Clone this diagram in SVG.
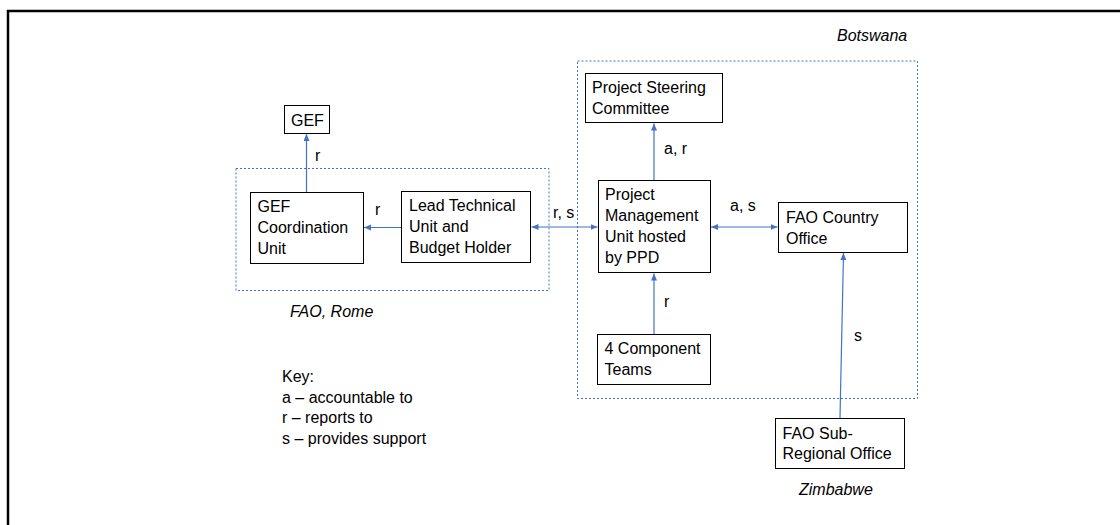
<svg xmlns="http://www.w3.org/2000/svg" width="1120" height="525" viewBox="0 0 1120 525">
<defs>
<marker id="ah" markerUnits="userSpaceOnUse" markerWidth="8" markerHeight="7" refX="7" refY="3" orient="auto-start-reverse">
<path d="M0,0 L7,3 L0,6 z" fill="#4472C4"/>
</marker>
</defs>
<style>
text{font-family:"Liberation Sans",Arial,sans-serif;font-size:16px;fill:#000}
.it{font-style:italic}
.box{fill:#fff;stroke:#000;stroke-width:1}
.grp{fill:none;stroke:#4472C4;stroke-width:1;stroke-dasharray:2 2}
.c{fill:none;stroke:#4472C4;stroke-width:1.2}
</style>
<rect width="1120" height="525" fill="#fff"/>
<path d="M8,525 V11 H1120" fill="none" stroke="#000" stroke-width="2.5"/>

<g id="group-rome">
<rect class="grp" x="236" y="168.5" width="313" height="122"/>
<text class="it" x="290" y="317">FAO, Rome</text>
</g>
<g id="group-botswana">
<rect class="grp" x="577.5" y="61" width="340" height="337.5"/>
<text class="it" x="837" y="41">Botswana</text>
</g>
<g id="label-zimbabwe">
<text class="it" x="799" y="495">Zimbabwe</text>
</g>

<g id="connectors">
<line class="c" x1="306.5" y1="192" x2="306.5" y2="134" marker-end="url(#ah)"/>
<text x="315" y="161">r</text>
<line class="c" x1="401" y1="227.5" x2="364" y2="227.5" marker-end="url(#ah)"/>
<text x="375" y="215">r</text>
<line class="c" x1="531.5" y1="227" x2="597.5" y2="227" marker-start="url(#ah)" marker-end="url(#ah)"/>
<text x="553" y="218">r, s</text>
<line class="c" x1="654" y1="180" x2="654" y2="123.5" marker-end="url(#ah)"/>
<text x="664" y="154">a, r</text>
<line class="c" x1="711" y1="227" x2="777.5" y2="227" marker-start="url(#ah)" marker-end="url(#ah)"/>
<text x="730" y="211">a, s</text>
<line class="c" x1="654" y1="334" x2="654" y2="273.5" marker-end="url(#ah)"/>
<text x="664" y="307">r</text>
<line class="c" x1="840" y1="418" x2="843.5" y2="253" marker-end="url(#ah)"/>
<text x="854" y="341">s</text>
</g>

<g id="node-gef">
<rect class="box" x="284.5" y="105.5" width="45" height="28"/>
<text x="291" y="126">GEF</text>
</g>
<g id="node-gef-coord">
<rect class="box" x="250.5" y="192.5" width="113" height="71"/>
<text x="257.5" y="212">GEF</text>
<text x="257.5" y="233">Coordination</text>
<text x="257.5" y="254">Unit</text>
</g>
<g id="node-lead-technical">
<rect class="box" x="401.5" y="191.5" width="129" height="71"/>
<text x="409" y="211">Lead Technical</text>
<text x="409" y="232">Unit and</text>
<text x="409" y="253">Budget Holder</text>
</g>
<g id="node-psc">
<rect class="box" x="585.5" y="73.5" width="137" height="49"/>
<text x="592" y="93">Project Steering</text>
<text x="592" y="114">Committee</text>
</g>
<g id="node-pmu">
<rect class="box" x="598.5" y="180.5" width="112" height="92"/>
<text x="605" y="200">Project</text>
<text x="605" y="221">Management</text>
<text x="605" y="242">Unit hosted</text>
<text x="605" y="263">by PPD</text>
</g>
<g id="node-fao-country">
<rect class="box" x="778.5" y="202.5" width="129" height="50"/>
<text x="786" y="223">FAO Country</text>
<text x="786" y="244">Office</text>
</g>
<g id="node-components">
<rect class="box" x="597.5" y="334.5" width="113" height="50"/>
<text x="604.5" y="354">4 Component</text>
<text x="604.5" y="375">Teams</text>
</g>
<g id="node-fao-subregional">
<rect class="box" x="775.5" y="418.5" width="129" height="50"/>
<text x="782.5" y="438.5">FAO Sub-</text>
<text x="782.5" y="459">Regional Office</text>
</g>

<g id="key">
<text x="282" y="382">Key:</text>
<text x="282" y="402.5">a – accountable to</text>
<text x="282" y="423">r – reports to</text>
<text x="282" y="443.5">s – provides support</text>
</g>
</svg>
